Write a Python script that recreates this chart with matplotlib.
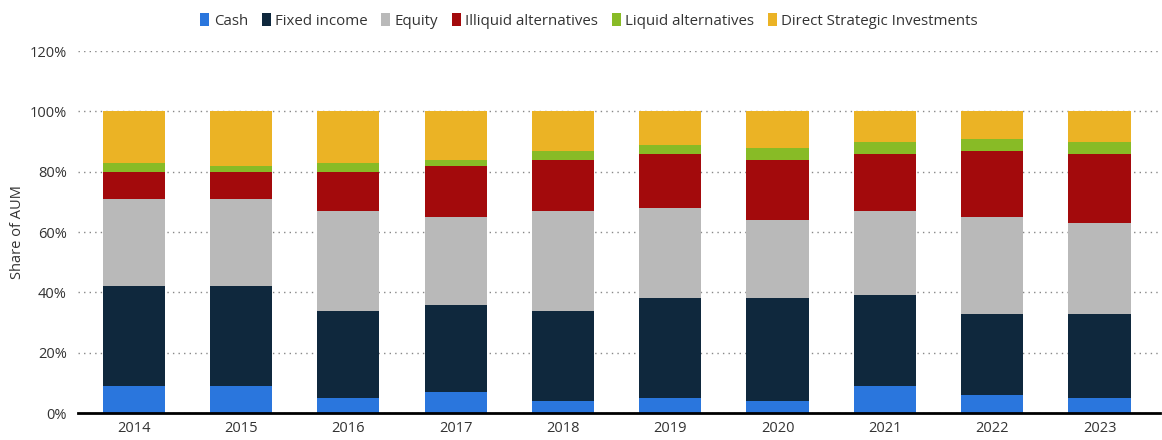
import matplotlib
matplotlib.use("Agg")
import matplotlib.pyplot as plt
import numpy as np

years = ["2014", "2015", "2016", "2017", "2018", "2019", "2020", "2021", "2022", "2023"]
cash = [9, 9, 5, 7, 4, 5, 4, 9, 6, 5]
fixed_income = [33, 33, 29, 29, 30, 33, 34, 30, 27, 28]
equity = [29, 29, 33, 29, 33, 30, 26, 28, 32, 30]
illiquid_alts = [9, 9, 13, 17, 17, 18, 20, 19, 22, 23]
liquid_alts = [3, 2, 3, 2, 3, 3, 4, 4, 4, 4]
direct_strategic = [17, 18, 17, 16, 13, 11, 12, 10, 9, 10]

series = [
    ("Cash", cash, "#2a76dd"),
    ("Fixed income", fixed_income, "#0f283d"),
    ("Equity", equity, "#b9b9b9"),
    ("Illiquid alternatives", illiquid_alts, "#a30a0c"),
    ("Liquid alternatives", liquid_alts, "#88bb26"),
    ("Direct Strategic Investments", direct_strategic, "#ebb325"),
]

plt.rcParams["font.family"] = ["Open Sans", "DejaVu Sans"]

fig = plt.figure(figsize=(11.62, 4.40), dpi=100)
ax = fig.add_axes([0.067, 0.061, 0.931, 0.823])

x = np.arange(len(years))
bottom = np.zeros(len(years))
handles = []
for name, vals, color in series:
    vals = np.array(vals, dtype=float)
    h = ax.bar(x, vals, width=0.58, bottom=bottom, color=color, label=name, zorder=3)
    handles.append(h)
    bottom += vals

ax.set_ylim(0, 120)
ax.set_xlim(-0.52, 9.56)
ax.set_yticks(np.arange(0, 121, 20))
ax.set_yticklabels([f"{v}%" for v in range(0, 121, 20)])
ax.set_xticks(x)
ax.set_xticklabels(years)
ax.tick_params(axis="both", length=0, labelsize=10.5, colors="#333333")
ax.tick_params(axis="y", pad=8)
ax.tick_params(axis="x", pad=6)

ax.yaxis.grid(True, linestyle=(0, (1, 3)), color="#888888", linewidth=1.0, zorder=0)
ax.xaxis.grid(False)
for side in ["top", "right", "left"]:
    ax.spines[side].set_visible(False)
ax.spines["bottom"].set_color("#000000")
ax.spines["bottom"].set_linewidth(2)
ax.spines["bottom"].set_zorder(4)

ax.set_ylabel("Share of AUM", fontsize=10.5, color="#333333", labelpad=3)

fig.legend(handles=handles, labels=[s[0] for s in series], loc="upper center",
           bbox_to_anchor=(0.507, 1.0), ncol=6, frameon=False, fontsize=10.8,
           handlelength=0.6, handleheight=0.9, handletextpad=0.3, columnspacing=0.9,
           labelcolor="#333333")

fig.savefig("out.png", dpi=100)
